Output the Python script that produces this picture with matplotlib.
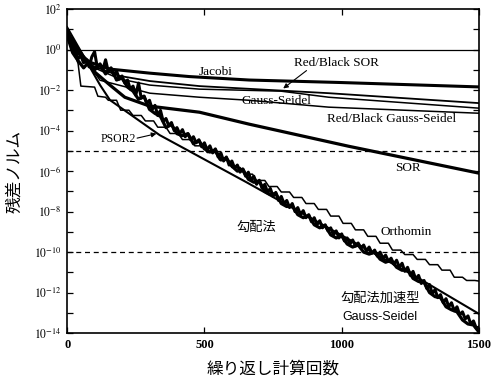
import matplotlib
matplotlib.use('Agg')
import matplotlib.pyplot as plt

plt.rcParams['font.family'] = ['Liberation Serif', 'Noto Sans CJK JP']
plt.rcParams['mathtext.fontset'] = 'stix'

# 反復回数と残差ノルム (log10) の読み取り値
jacobi_it = [0, 29, 83, 156, 301, 446, 663, 989, 1500]
jacobi_exp = [0.96, -0.02, -0.62, -0.96, -1.16, -1.33, -1.50, -1.62, -1.84]

rbsor_it = [0, 83, 192, 301, 482, 953, 1500]
rbsor_exp = [0.9, -0.75, -1.3, -1.55, -1.80, -2.15, -2.64]

gs_it = [0, 83, 192, 301, 482, 779, 953, 1500]
gs_exp = [0.85, -0.8, -1.45, -1.75, -1.95, -2.05, -2.35, -2.89]

rbgs_it = [0, 120, 301, 482, 663, 953, 1500]
rbgs_exp = [0.8, -1.51, -2.15, -2.35, -2.50, -2.84, -3.14]

sor_it = [0, 47, 101, 156, 210, 301, 482, 663, 1025, 1500]
sor_exp = [0.86, -0.27, -1.11, -1.75, -2.35, -2.79, -3.09, -3.68, -4.77, -6.10]

psor2_it = [0, 120, 156, 337, 652, 1279, 1500]
psor2_exp = [1.11, -1.75, -2.49, -4.22, -6.54, -11.28, -13.05]

ortho_head_it = [0, 20, 40, 50, 100, 112, 140]
ortho_head_exp = [0.6, 0.1, -0.7, -1.8, -1.85, -2.3, -2.35]
ortho_step_it = [150, 195, 240, 285, 330, 375, 420, 465, 510, 555,
                 600, 645, 690, 735, 780, 825, 870, 915, 960, 1005,
                 1050, 1095, 1140, 1185, 1230, 1275, 1320, 1365, 1410, 1455]
ortho_step_exp = [-2.50, -2.99, -3.25, -3.52, -3.83, -4.14, -4.44, -4.75, -5.08, -5.45,
                  -5.82, -6.15, -6.46, -6.76, -7.03, -7.30, -7.60, -7.89, -8.22, -8.58,
                  -8.90, -9.22, -9.56, -9.90, -10.12, -10.36, -10.62, -10.89, -11.24, -11.40]
ortho_end_exp = -11.43

# 勾配法 (10 回ごと)
grad_it = list(range(0, 1501, 10))
grad_exp = [0.9, 0.5, 0.1, -0.1, -0.45, -0.3, -0.65, -0.5, -0.85, -0.35,
            -0.1, -0.9, -0.7, -1.0, -0.5, -1.1, -0.95, -1.25, -1.05, -1.45,
            -1.3, -1.65, -1.5, -1.95, -1.8, -2.25, -1.65, -2.4, -2.3, -2.65,
            -2.5, -2.95, -2.75, -3.25, -3.0, -3.55, -3.4, -3.75, -3.6, -4.0,
            -3.85, -4.15, -3.95, -4.3, -4.15, -4.45, -4.3, -4.6, -4.45, -4.8,
            -4.6, -4.95, -4.75, -5.1, -4.9, -5.3, -5.1, -5.5, -5.3, -5.7,
            -5.5, -5.85, -5.7, -6.05, -5.9, -6.25, -6.05, -6.45, -6.25, -6.65,
            -6.45, -6.85, -6.65, -7.05, -6.85, -7.25, -7.05, -7.45, -7.25, -7.6,
            -7.45, -7.8, -7.6, -8.0, -7.8, -8.15, -7.95, -8.3, -8.15, -8.5,
            -8.3, -8.65, -8.45, -8.8, -8.65, -8.95, -8.8, -9.15, -8.95, -9.3,
            -9.1, -9.45, -9.3, -9.6, -9.4, -9.7, -9.55, -9.8, -9.65, -9.95,
            -9.75, -10.05, -9.9, -10.2, -10.0, -10.3, -10.15, -10.45, -10.3, -10.6,
            -10.4, -10.75, -10.55, -10.95, -10.75, -11.15, -10.95, -11.35, -11.15, -11.55,
            -11.4, -11.8, -11.6, -12.05, -11.85, -12.25, -12.1, -12.5, -12.3, -12.7,
            -12.5, -12.9, -12.7, -13.1, -12.95, -13.3, -13.15, -13.55, -13.4, -13.75,
            -13.7]

# 勾配法加速型 Gauss-Seidel (20 回ごと)
gradgs_it = list(range(0, 1501, 20))
gradgs_exp = [0.7, -0.15, -0.55, -0.9, -0.6, -1.0, -0.75, -1.2, -0.9, -1.5,
              -1.4, -1.85, -2.05, -2.45, -2.3, -2.95, -3.15, -3.3, -3.85, -3.7,
              -4.15, -4.25, -4.15, -4.65, -4.5, -4.9, -5.05, -4.95, -5.45, -5.35,
              -5.75, -6.0, -5.9, -6.4, -6.55, -6.5, -7.0, -7.15, -7.1, -7.6,
              -7.75, -7.7, -8.15, -8.3, -8.2, -8.65, -8.8, -8.7, -9.15, -9.3,
              -9.2, -9.6, -9.75, -9.65, -10.0, -10.1, -10.0, -10.35, -10.5, -10.4,
              -10.75, -10.9, -10.85, -11.3, -11.45, -11.5, -12.0, -12.2, -12.25, -12.7,
              -12.85, -12.95, -13.35, -13.55, -13.6, -13.95]

ref_exp = [-5, -10]

fig = plt.figure(figsize=(5.01, 3.82), dpi=100)
ax = fig.add_axes([0.134, 0.128, 0.822, 0.848])


def p(it, ex, **kw):
    ax.plot(it, [10.0 ** e for e in ex], color='black', solid_joinstyle='round', **kw)


ax.axhline(1.0, color='black', lw=0.9)
for e in ref_exp:
    ax.axhline(10.0 ** e, color='black', lw=0.9, ls=(0, (4, 3)))

p(jacobi_it, jacobi_exp, lw=2.2)
p(rbsor_it, rbsor_exp, lw=1.3)
p(gs_it, gs_exp, lw=1.1)
p(rbgs_it, rbgs_exp, lw=1.1)
p(sor_it, sor_exp, lw=2.3)
p(psor2_it, psor2_exp, lw=1.5)

ortho_it = list(ortho_head_it)
ortho_exp = list(ortho_head_exp)
for s, e in zip(ortho_step_it, ortho_step_exp):
    ortho_it += [s, s + 30]
    ortho_exp += [e, e]
ortho_it.append(1500)
ortho_exp.append(ortho_end_exp)
p(ortho_it, ortho_exp, lw=1.1)

p(grad_it, grad_exp, lw=2.2)
p(gradgs_it, gradgs_exp, lw=2.3)

ax.set_yscale('log')
ax.set_xlim(0, 1500)
ax.set_ylim(1e-14, 1e2)
ax.set_yticks([10.0 ** e for e in range(-14, 3)])
ax.set_yticklabels([f'$10^{{{e}}}$' if e % 2 == 0 else '' for e in range(-14, 3)], fontsize=8.5)
ax.minorticks_off()
ax.set_xticks([0, 500, 1000, 1500])
ax.set_xticklabels(['0', '500', '1000', '1500'], fontsize=9, fontweight='bold')
ax.tick_params(direction='in', top=True, right=True, length=4, width=0.9, pad=4)
for sp in ax.spines.values():
    sp.set_linewidth(1.2)

ax.set_xlabel('繰り返し計算回数', fontsize=12, family='Noto Sans CJK JP', labelpad=7)
ax.set_ylabel('残差ノルム', fontsize=12, family='Noto Sans CJK JP', labelpad=8)

fs = 9.5
ax.text(540, 10 ** -1.11, 'Jacobi', fontsize=fs, ha='center', va='center')
ax.text(982, 10 ** -0.67, 'Red/Black SOR', fontsize=fs, ha='center', va='center')
ax.annotate('', xy=(779, 10 ** -2.0), xytext=(880, 10 ** -0.95),
            arrowprops=dict(arrowstyle='-|>', color='black', lw=0.8, mutation_scale=7))
ax.text(764, 10 ** -2.54, 'Gauss-Seidel', fontsize=fs, ha='center', va='center')
ax.text(1181, 10 ** -3.43, 'Red/Black Gauss-Seidel', fontsize=fs, ha='center', va='center')
ax.text(1243, 10 ** -5.85, 'SOR', fontsize=fs, ha='center', va='center')
ax.text(185, 10 ** -4.42, 'PSOR2', fontsize=8.5, ha='center', va='center')
ax.annotate('', xy=(335, 10 ** -4.12), xytext=(245, 10 ** -4.4),
            arrowprops=dict(arrowstyle='-|>', color='black', lw=0.8, mutation_scale=7))
ax.text(1235, 10 ** -9.01, 'Orthomin', fontsize=fs, ha='center', va='center')
ax.text(688, 10 ** -8.77, '勾配法', fontsize=9.5, ha='center', va='center',
        family='Noto Sans CJK JP')
ax.text(1141, 10 ** -12.27, '勾配法加速型', fontsize=9.5, ha='center', va='center',
        family='Noto Sans CJK JP')
ax.text(1141, 10 ** -13.21, 'Gauss-Seidel', fontsize=9, ha='center', va='center',
        family='Liberation Sans')

fig.savefig('out.png', dpi=100)
